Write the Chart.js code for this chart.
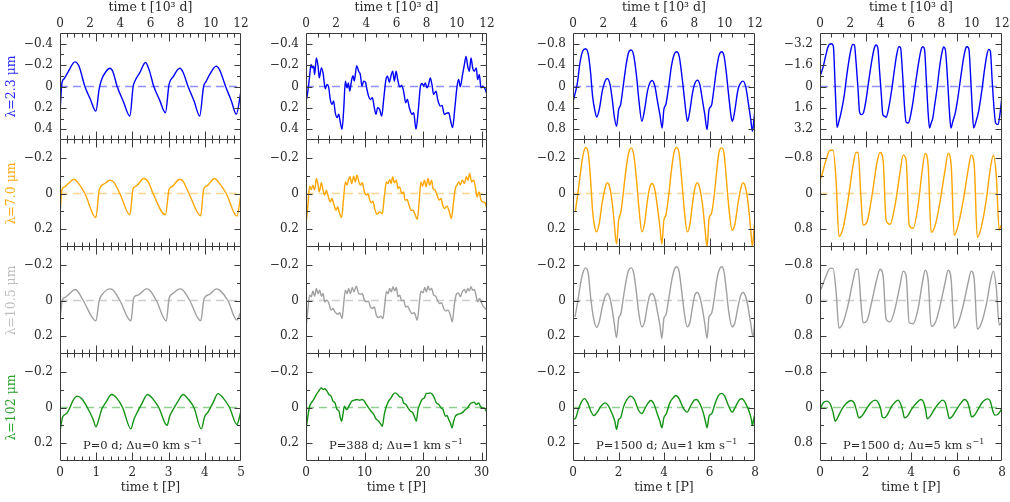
<!DOCTYPE html>
<html><head><meta charset="utf-8">
<script src="https://cdn.jsdelivr.net/npm/chart.js@4"></script>
<style>
html,body{margin:0;padding:0;background:#fff;overflow:hidden;width:1010px;height:502px;position:relative}
.p{position:absolute}
</style></head><body>
<script>
// ---------- DATA (time in 10^3 d) ----------
const topTicks = [0,2,4,6,8,10,12];
const bottomTicks = [[0,1,2,3,4,5],[0,10,20,30],[0,2,4,6,8],[0,2,4,6,8]];
const periodsKd = [2.4, 0.388, 1.5, 1.5];
const lambdaLabels = ['λ=2.3 μm','λ=7.0 μm','λ=10.5 μm','λ=102 μm'];
const notes = ['P=0 d; Δu=0 km s','P=388 d; Δu=1 km s','P=1500 d; Δu=1 km s','P=1500 d; Δu=5 km s'];
const yTicksTop = [[-0.4,-0.2,0,0.2,0.4],[-0.4,-0.2,0,0.2,0.4],[-0.8,-0.4,0,0.4,0.8],[-3.2,-1.6,0,1.6,3.2]];
const yTicksLow = [[-0.2,0,0.2],[-0.2,0,0.2],[-0.2,0,0.2],[-0.8,0,0.8]];

// Column 1: P=0 d
const tP0_23 = [0,0.13,0.26,0.55,0.99,1.26,1.65,2.0,2.38,2.6,2.76,3.05,3.31,3.5,3.79,4.2,4.63,4.85,4.96,5.29,5.67,5.9,6.22,6.6,6.99,7.23,7.5,7.94,8.15,8.49,8.9,9.26,9.52,9.7,9.92,10.36,10.6,10.98,11.35,11.69,12];
const vP0_23 = [0.245,-0.034,-0.07,-0.14,-0.23,-0.19,0,0.115,0.23,0.02,-0.065,-0.14,-0.17,-0.14,0,0.14,0.276,0,-0.05,-0.13,-0.225,-0.16,0,0.125,0.245,-0.02,-0.09,-0.17,-0.135,0,0.14,0.276,0,-0.05,-0.11,-0.19,-0.15,0,0.13,0.26,0.04];
const tP0_70 = [0,0.13,0.29,0.55,0.93,1.15,1.65,2.38,2.6,2.98,3.31,3.55,3.97,4.63,4.85,5.07,5.56,5.85,6.17,6.99,7.23,7.45,7.94,8.16,8.55,9.33,9.52,9.75,10.25,10.47,11.02,11.73,12];
const vP0_70 = [0.12,-0.022,-0.037,-0.056,-0.08,-0.065,0,0.135,-0.019,-0.056,-0.075,-0.065,0,0.12,-0.028,-0.043,-0.084,-0.065,0,0.12,-0.022,-0.04,-0.08,-0.068,0,0.125,-0.022,-0.043,-0.084,-0.068,0,0.127,0];
const tP0_105 = [0,0.15,0.33,0.66,0.99,1.15,1.54,2.38,2.6,2.86,3.31,3.53,3.97,4.7,4.9,5.18,5.73,5.95,6.39,7.05,7.23,7.5,7.94,8.16,8.6,9.33,9.55,9.92,10.36,10.58,11.13,11.73,12];
const vP0_105 = [0.11,0,-0.017,-0.04,-0.062,-0.055,0,0.114,0,-0.04,-0.065,-0.058,0,0.114,-0.017,-0.03,-0.065,-0.058,0,0.114,-0.01,-0.04,-0.065,-0.058,0,0.114,-0.01,-0.035,-0.065,-0.058,0,0.11,0.06];
const tP0_102 = [0,0.18,0.44,0.66,0.84,1.15,1.43,1.81,2.2,2.38,2.6,2.76,3.05,3.42,3.75,4.15,4.7,4.9,5.13,5.4,5.8,6.17,6.55,7.1,7.27,7.5,7.83,8.16,8.49,8.88,9.37,9.59,9.81,10.14,10.48,10.81,11.24,11.73,12];
const vP0_102 = [0.133,0.052,0.034,0,-0.036,-0.064,-0.05,0,0.067,0.108,0.058,0.011,-0.03,-0.073,-0.054,0,0.12,0.067,0.026,-0.017,-0.073,-0.047,0,0.1,0.049,0.011,-0.036,-0.073,-0.048,0,0.12,0.052,0.026,-0.026,-0.078,-0.054,0,0.095,0.02];

// Column 2: P=388 d
const tP388_23 = [0,0.11,0.24,0.33,0.42,0.51,0.57,0.69,0.8,0.88,1.02,1.13,1.28,1.39,1.5,1.61,1.72,1.83,1.94,2.06,2.17,2.28,2.39,2.5,2.61,2.72,2.81,2.9,3.03,3.12,3.2,3.36,3.49,3.6,3.71,3.82,3.96,4.04,4.15,4.27,4.4,4.53,4.64,4.75,4.88,5.02,5.15,5.3,5.41,5.52,5.64,5.75,5.86,5.97,6.08,6.21,6.34,6.47,6.61,6.72,6.85,7.03,7.14,7.29,7.45,7.58,7.69,7.8,7.91,8.02,8.13,8.24,8.35,8.46,8.62,8.73,8.91,9.02,9.17,9.3,9.46,9.57,9.72,9.86,10.01,10.12,10.23,10.36,10.5,10.61,10.72,10.83,10.94,11.05,11.16,11.29,11.38,11.49,11.6,11.73,11.87,12];
const vP388_23 = [0.136,0.059,-0.096,-0.205,-0.174,-0.189,-0.112,-0.267,-0.189,-0.081,-0.174,-0.127,0.022,-0.019,0.003,0.121,0.167,0.136,0.245,0.291,0.26,0.338,0.4,0.214,-0.05,0.012,-0.034,0.043,-0.065,-0.102,-0.05,-0.195,-0.143,-0.112,-0.003,-0.05,-0.034,0.028,0.09,0.121,0.105,0.198,0.26,0.198,0.214,0.276,0.121,-0.065,-0.096,-0.04,-0.102,-0.143,-0.05,-0.143,-0.065,0.003,-0.009,0.043,0.152,0.121,0.198,0.26,0.245,0.4,0.214,0.003,-0.028,-0.003,-0.034,0.012,-0.019,-0.081,-0.019,0.074,0.043,0.121,0.183,0.177,0.26,0.251,0.245,0.307,0.384,0.214,0.003,-0.065,0.003,-0.096,-0.205,-0.282,-0.189,-0.143,-0.267,-0.174,-0.143,-0.174,-0.065,-0.112,0.012,-0.003,0.022,0.074];
const tP388_70 = [0,0.11,0.24,0.35,0.46,0.57,0.69,0.8,0.88,1.02,1.13,1.24,1.35,1.48,1.61,1.72,1.86,1.99,2.1,2.23,2.36,2.5,2.61,2.72,2.81,2.92,3.03,3.16,3.27,3.38,3.51,3.6,3.73,3.87,4.0,4.11,4.22,4.35,4.44,4.55,4.71,4.86,5.06,5.19,5.33,5.44,5.55,5.64,5.75,5.86,5.99,6.1,6.21,6.34,6.47,6.56,6.7,6.83,6.96,7.09,7.25,7.38,7.51,7.62,7.73,7.85,7.96,8.09,8.2,8.33,8.42,8.55,8.69,8.82,8.95,9.06,9.19,9.35,9.5,9.64,9.77,9.9,10.01,10.14,10.23,10.36,10.5,10.63,10.74,10.85,10.98,11.12,11.23,11.34,11.47,11.6,11.73,11.87,12];
const vP388_70 = [0.168,0.084,-0.041,-0.022,-0.047,-0.019,-0.084,-0.047,-0.009,-0.06,-0.019,0.009,-0.019,0.019,0.047,0.028,0.065,0.094,0.075,0.112,0.135,0.019,-0.065,-0.047,-0.075,-0.094,-0.056,-0.097,-0.065,-0.103,-0.065,-0.047,-0.06,-0.009,0.009,0,0.037,0.052,0.043,0.084,0.116,0.103,0.112,0.019,-0.065,-0.056,-0.079,-0.056,-0.094,-0.06,-0.075,-0.028,-0.037,0,-0.009,0.037,0.034,0.065,0.094,0.094,0.122,0.146,0.037,-0.065,-0.041,-0.075,-0.037,-0.084,-0.047,-0.075,-0.028,-0.019,0.009,0.037,0.028,0.065,0.084,0.071,0.103,0.14,0.056,-0.028,-0.047,-0.065,-0.047,-0.075,-0.056,-0.094,-0.075,-0.112,-0.065,-0.075,-0.037,0.019,-0.009,0.037,0.047,0.052,0.084];
const tP388_105 = [0,0.11,0.24,0.35,0.46,0.57,0.69,0.8,0.91,1.02,1.13,1.24,1.39,1.52,1.66,1.79,1.92,2.1,2.23,2.39,2.5,2.61,2.72,2.83,2.94,3.07,3.18,3.34,3.49,3.6,3.73,3.87,4.0,4.13,4.27,4.4,4.53,4.66,4.82,4.97,5.1,5.22,5.33,5.44,5.55,5.66,5.77,5.88,5.99,6.1,6.21,6.34,6.47,6.61,6.74,6.87,7.03,7.18,7.38,7.51,7.62,7.76,7.87,7.98,8.09,8.2,8.33,8.46,8.6,8.73,8.86,8.99,9.13,9.26,9.42,9.57,9.7,9.83,9.97,10.1,10.23,10.36,10.5,10.61,10.72,10.83,10.94,11.05,11.16,11.29,11.38,11.51,11.65,11.78,11.89,12];
const vP388_105 = [0.148,0.064,-0.03,-0.021,-0.054,-0.024,-0.067,-0.039,-0.058,-0.024,-0.039,0.007,-0.002,0.017,0.054,0.045,0.064,0.077,0.069,0.101,0.017,-0.058,-0.039,-0.067,-0.039,-0.073,-0.049,-0.08,-0.039,-0.036,-0.039,-0.002,0.007,0.002,0.036,0.045,0.036,0.082,0.095,0.088,0.101,0.026,-0.049,-0.039,-0.067,-0.049,-0.077,-0.054,-0.073,-0.021,-0.03,0.002,-0.002,0.036,0.032,0.054,0.073,0.069,0.11,0.017,-0.052,-0.043,-0.073,-0.049,-0.08,-0.058,-0.067,-0.03,-0.024,0.002,0.017,0.013,0.045,0.058,0.054,0.082,0.12,0.026,-0.036,-0.043,-0.021,-0.049,-0.062,-0.043,-0.067,-0.054,-0.077,-0.058,-0.062,-0.021,0.007,-0.011,0.017,0.036,0.045,0.054];
const tP388_102 = [0,0.11,0.24,0.35,0.51,0.69,0.84,1.02,1.13,1.24,1.39,1.52,1.66,1.79,1.92,2.06,2.19,2.28,2.36,2.45,2.54,2.67,2.76,2.9,3.05,3.2,3.38,3.56,3.71,3.87,4.0,4.15,4.31,4.49,4.64,4.82,4.97,5.06,5.19,5.33,5.48,5.64,5.77,5.92,6.08,6.21,6.36,6.47,6.63,6.76,6.92,7.05,7.18,7.31,7.43,7.54,7.69,7.85,7.98,8.13,8.24,8.38,8.51,8.64,8.8,8.95,9.08,9.24,9.35,9.46,9.57,9.68,9.79,9.9,10.06,10.23,10.41,10.56,10.72,10.85,11.0,11.16,11.29,11.45,11.56,11.69,11.82,12];
const vP388_102 = [0.127,0.058,-0.007,-0.026,-0.045,-0.073,-0.092,-0.11,-0.101,-0.105,-0.092,-0.073,-0.064,-0.036,-0.026,0.011,0.021,0.058,0.077,0.039,-0.007,0.011,0.007,-0.017,-0.036,-0.041,-0.045,-0.041,-0.045,-0.036,-0.017,0.002,0.021,0.039,0.064,0.077,0.095,0.105,0.039,-0.007,-0.036,-0.054,-0.073,-0.082,-0.073,-0.06,-0.054,-0.026,-0.017,0.002,0.021,0.026,0.049,0.077,0.011,-0.017,-0.045,-0.054,-0.079,-0.079,-0.082,-0.073,-0.054,-0.026,-0.017,0.002,0.011,0.049,0.045,0.067,0.086,0.114,0.077,0.049,0.039,0.034,0.026,0.011,0.002,-0.017,-0.026,-0.03,-0.017,-0.026,-0.007,0.002,0.002,0.03];

// Column 3: P=1500 d, du=1
const tP1500a_23 = [0.04,0.29,0.46,0.64,0.83,1.01,1.16,1.29,1.43,1.56,1.73,1.93,2.11,2.26,2.44,2.59,2.72,2.87,3.01,3.14,3.31,3.49,3.66,3.84,4.01,4.19,4.34,4.54,4.72,4.91,5.07,5.22,5.4,5.55,5.73,5.88,5.99,6.12,6.3,6.49,6.67,6.82,7.0,7.17,7.33,7.48,7.55,7.7,7.88,8.03,8.21,8.36,8.53,8.69,8.84,8.97,9.13,9.3,9.46,9.63,9.81,9.96,10.11,10.27,10.44,10.51,10.66,10.88,11.06,11.21,11.39,11.56,11.72,11.83,11.93,12.0];
const vP1500a_23 = [0.244,-0.069,-0.444,-0.663,-0.706,-0.6,-0.256,0.181,0.431,0.569,0.431,0.088,-0.1,-0.15,-0.038,0.244,0.556,0.744,0.431,0.338,-0.006,-0.381,-0.631,-0.681,-0.569,-0.194,0.244,0.65,0.431,0.088,-0.069,-0.113,-0.006,0.244,0.525,0.775,0.431,0.338,0.025,-0.381,-0.6,-0.65,-0.569,-0.225,0.181,0.556,0.65,0.463,0.119,-0.056,-0.119,-0.038,0.244,0.525,0.806,0.431,0.356,0.025,-0.319,-0.581,-0.65,-0.569,-0.256,0.181,0.588,0.65,0.463,0.056,-0.069,-0.1,0.006,0.306,0.619,0.838,0.619,0.431];
const tP1500a_70 = [0.15,0.29,0.46,0.64,0.83,1.01,1.16,1.29,1.43,1.56,1.73,1.93,2.11,2.26,2.44,2.59,2.7,2.87,3.01,3.16,3.31,3.49,3.66,3.84,4.01,4.19,4.34,4.54,4.72,4.91,5.07,5.22,5.4,5.55,5.73,5.86,5.99,6.12,6.3,6.49,6.67,6.82,7.0,7.17,7.33,7.53,7.7,7.88,8.03,8.21,8.36,8.53,8.69,8.84,8.97,9.13,9.3,9.46,9.63,9.81,9.96,10.11,10.27,10.49,10.66,10.88,11.06,11.21,11.39,11.56,11.72,11.83,11.93,12.0];
const vP1500a_70 = [0.103,0.019,-0.094,-0.206,-0.258,-0.224,-0.075,0.094,0.187,0.215,0.168,0.047,-0.028,-0.06,-0.028,0.056,0.146,0.284,0.15,0.103,0,-0.131,-0.224,-0.256,-0.215,-0.075,0.075,0.215,0.168,0.037,-0.037,-0.056,-0.019,0.065,0.187,0.284,0.15,0.122,0.019,-0.131,-0.234,-0.258,-0.224,-0.075,0.084,0.215,0.178,0.056,-0.028,-0.06,-0.028,0.056,0.187,0.299,0.14,0.112,0.019,-0.112,-0.234,-0.256,-0.224,-0.084,0.075,0.206,0.178,0.056,-0.028,-0.06,-0.028,0.065,0.206,0.299,0.206,0.14];
const tP1500a_105 = [0.13,0.29,0.46,0.64,0.83,1.01,1.16,1.34,1.56,1.73,1.93,2.11,2.26,2.44,2.59,2.72,2.87,3.01,3.16,3.31,3.49,3.66,3.84,4.01,4.19,4.34,4.54,4.72,4.91,5.07,5.22,5.4,5.55,5.73,5.86,5.99,6.12,6.3,6.49,6.67,6.82,7.0,7.17,7.33,7.53,7.7,7.88,8.03,8.21,8.36,8.53,8.69,8.84,8.97,9.13,9.3,9.46,9.63,9.81,9.96,10.11,10.27,10.49,10.66,10.88,11.06,11.21,11.39,11.56,11.72,11.87,12.0];
const vP1500a_105 = [0.092,0.017,-0.077,-0.151,-0.183,-0.151,-0.021,0.092,0.151,0.12,0.036,-0.021,-0.039,-0.011,0.054,0.129,0.208,0.101,0.073,-0.011,-0.105,-0.17,-0.183,-0.151,-0.039,0.073,0.148,0.12,0.026,-0.03,-0.039,-0.011,0.054,0.138,0.213,0.101,0.082,-0.002,-0.105,-0.17,-0.189,-0.161,-0.049,0.064,0.148,0.125,0.036,-0.03,-0.045,-0.021,0.045,0.129,0.213,0.092,0.073,-0.002,-0.105,-0.17,-0.189,-0.161,-0.058,0.064,0.148,0.129,0.036,-0.03,-0.045,-0.021,0.045,0.129,0.204,0.101];
const tP1500a_102 = [0.04,0.18,0.35,0.53,0.75,0.97,1.18,1.38,1.6,1.84,2.11,2.33,2.55,2.76,2.87,3.01,3.14,3.31,3.53,3.8,4.04,4.3,4.54,4.76,4.96,5.13,5.35,5.57,5.73,5.86,5.99,6.16,6.38,6.6,6.78,7.0,7.26,7.53,7.74,7.99,8.14,8.36,8.58,8.73,8.84,8.97,9.15,9.35,9.57,9.79,10.0,10.22,10.49,10.73,10.99,11.15,11.36,11.61,11.76,11.83,11.93,12.0];
const vP1500a_102 = [0.065,0.058,0.011,-0.026,-0.05,-0.026,0.021,0.045,0.026,-0.007,-0.026,-0.011,0.03,0.077,0.123,0.067,0.058,0.002,-0.041,-0.064,-0.045,0.011,0.034,0.002,-0.026,-0.039,-0.017,0.039,0.077,0.114,0.058,0.034,-0.026,-0.054,-0.067,-0.049,0.002,0.026,-0.007,-0.041,-0.045,-0.022,0.026,0.077,0.114,0.049,0.034,-0.017,-0.064,-0.079,-0.064,-0.017,0.026,-0.007,-0.045,-0.049,-0.026,0.021,0.067,0.101,0.058,0.034];

// Column 4: P=1500 d, du=5
const tP1500b_23 = [0.05,0.22,0.37,0.51,0.62,0.77,0.88,0.99,1.06,1.12,1.25,1.43,1.59,1.76,1.92,2.05,2.16,2.27,2.38,2.51,2.6,2.71,2.86,3.04,3.21,3.41,3.57,3.7,3.81,3.92,4.05,4.14,4.27,4.36,4.51,4.73,4.91,5.06,5.2,5.31,5.44,5.57,5.68,5.83,5.94,6.12,6.32,6.52,6.67,6.78,6.89,7.02,7.13,7.22,7.33,7.44,7.55,7.71,7.88,8.04,8.15,8.26,8.41,8.54,8.63,8.76,8.92,9.09,9.29,9.47,9.62,9.69,9.82,9.93,10.04,10.13,10.26,10.46,10.68,10.85,11.01,11.12,11.23,11.36,11.49,11.58,11.74,11.89,12.0];
const vP1500b_23 = [-0.9,-1.525,-2.275,-2.9,-3.15,-3.2,-3.025,-0.275,1.725,3.05,2.6,1.725,0.725,-0.775,-2.025,-2.825,-3.15,-3.1,-1.775,0.225,1.85,2.1,1.975,0.975,-0.4,-1.9,-2.825,-3.1,-2.9,-1.275,0.725,2.1,2.225,2.3,1.725,0.225,-1.275,-2.4,-2.975,-2.9,-1.025,1.475,2.675,2.725,2.35,1.225,-0.4,-1.9,-2.775,-2.975,-2.775,-0.275,1.975,3.1,2.725,2.35,1.475,0.225,-1.4,-2.525,-2.95,-2.775,-0.525,1.975,3.1,2.6,1.975,0.85,-0.775,-2.15,-2.9,-2.975,-2.775,-0.775,1.725,3.1,2.725,1.85,0.225,-1.275,-2.4,-2.775,-2.65,-0.275,1.85,2.725,2.85,1.85,0.725];
const tP1500b_70 = [0.07,0.4,0.66,0.86,1.06,1.25,1.52,1.85,2.18,2.38,2.51,2.71,2.84,3.1,3.43,3.76,3.96,4.16,4.36,4.62,4.95,5.28,5.48,5.68,5.88,6.14,6.47,6.74,6.94,7.13,7.33,7.6,7.93,8.26,8.45,8.65,8.85,9.11,9.45,9.78,9.97,10.17,10.37,10.63,10.96,11.23,11.43,11.62,11.82,11.95];
const vP1500b_70 = [-0.34,-0.75,-0.97,-0.97,-0.3,0.96,0.78,0.15,-0.63,-0.92,-0.92,0.15,0.71,0.64,0.04,-0.7,-0.92,-0.75,0.6,0.69,0.26,-0.48,-0.86,-0.75,0.71,0.78,0.26,-0.52,-0.9,-0.63,0.87,0.71,0.15,-0.56,-0.9,-0.63,0.94,0.71,0.15,-0.56,-0.86,-0.63,0.98,0.76,0.15,-0.56,-0.86,-0.41,0.82,0.71];
const tP1500b_105 = [0.07,0.4,0.66,0.86,1.06,1.25,1.52,1.85,2.18,2.38,2.51,2.71,2.84,3.1,3.43,3.76,3.96,4.16,4.36,4.62,4.95,5.28,5.48,5.68,5.88,6.14,6.47,6.74,6.94,7.13,7.33,7.6,7.93,8.26,8.45,8.65,8.85,9.11,9.45,9.78,9.97,10.17,10.37,10.63,10.96,11.23,11.43,11.62,11.82,11.95];
const vP1500b_105 = [-0.25,-0.55,-0.72,-0.72,-0.2,0.62,0.5,0.1,-0.45,-0.7,-0.7,0.1,0.5,0.45,0,-0.5,-0.7,-0.55,0.42,0.48,0.18,-0.35,-0.66,-0.55,0.5,0.52,0.18,-0.38,-0.68,-0.46,0.58,0.5,0.1,-0.42,-0.68,-0.46,0.62,0.5,0.1,-0.42,-0.66,-0.46,0.64,0.52,0.1,-0.42,-0.66,-0.3,0.55,0.5];
const tP1500b_102 = [0.04,0.22,0.44,0.66,0.84,1.01,1.21,1.43,1.72,2.05,2.25,2.42,2.55,2.75,3.04,3.35,3.65,3.85,4.01,4.1,4.25,4.45,4.73,4.95,5.15,5.33,5.46,5.57,5.77,6.05,6.38,6.65,6.83,6.96,7.07,7.27,7.53,7.82,8.08,8.26,8.39,8.52,8.7,8.94,9.25,9.53,9.73,9.86,9.99,10.17,10.39,10.68,11.05,11.23,11.4,11.54,11.71,11.89,12.0];
const vP1500b_102 = [0.007,-0.105,-0.142,-0.09,0.082,0.307,0.194,0.045,-0.09,-0.157,-0.105,0.082,0.232,0.194,0.045,-0.105,-0.165,-0.105,0.045,0.209,0.232,0.157,-0.03,-0.12,-0.165,-0.067,0.082,0.232,0.194,0.03,-0.105,-0.18,-0.12,0.045,0.254,0.194,0.045,-0.09,-0.165,-0.105,0.06,0.247,0.209,0.082,-0.082,-0.18,-0.12,0.03,0.209,0.18,0.06,-0.105,-0.194,-0.142,0.082,0.172,0.157,0.082,0.007];

const seriesTimes = [
  [tP0_23, tP0_70, tP0_105, tP0_102],
  [tP388_23, tP388_70, tP388_105, tP388_102],
  [tP1500a_23, tP1500a_70, tP1500a_105, tP1500a_102],
  [tP1500b_23, tP1500b_70, tP1500b_105, tP1500b_102]
];
const seriesValues = [
  [vP0_23, vP0_70, vP0_105, vP0_102],
  [vP388_23, vP388_70, vP388_105, vP388_102],
  [vP1500a_23, vP1500a_70, vP1500a_105, vP1500a_102],
  [vP1500b_23, vP1500b_70, vP1500b_105, vP1500b_102]
];

// ---------- STYLE / LAYOUT ----------
const FONT = 'DejaVu Serif';
const TXT = '#2a2a2a';
const lineColors = ['#0000ff','#ffa500','#a0a0a0','#139313'];
const zeroColors = ['#8f8fff','#ffd690','#cdcdcd','#8fd08f'];
const titleColors = ['#2828ff','#ffaa10','#bdbdbd','#2aa02a'];
const yRange = [[0.5,0.3,0.3,0.3],[0.5,0.3,0.3,0.3],[1,0.3,0.3,0.3],[4,1.2,1.2,1.2]];
const yMinorTop = [0.1,0.1,0.2,0.8];
const yMinorLow = [0.1,0.1,0.1,0.4];
const xMinorP = [0.2,2,0.5,0.5];
const xMajorP = [1,10,2,2];
const plotL = [60,306,573,820], plotW = [181,181,182,182];
const plotT = [33,140,247,354], plotH = 107;

Chart.defaults.font.family = FONT;
Chart.defaults.font.size = 12;
Chart.defaults.color = TXT;

function fmt(v){ return v < 0 ? '\u2212' + String(Math.abs(v)) : String(v); }

function framePlugin(c, r, yMinor, yMajor, R){
  return {
    id: 'frame',
    afterDatasetsDraw(chart){
      const {ctx, chartArea:a, scales} = chart;
      const xs = scales.x, ys = scales.y;
      const L = Math.round(a.left), Rt = Math.round(a.right), T = Math.round(a.top), B = Math.round(a.bottom);
      const top = r === 0 ? T + 0.5 : T - 0.5;
      const bot = B - 0.5;
      ctx.save();
      ctx.strokeStyle = '#3a3a3a';
      ctx.lineWidth = 1;
      ctx.beginPath();
      ctx.rect(L + 0.5, top, Rt - L - 1, bot - top);
      const pk = periodsKd[c], maxP = 12 / pk, st = xMinorP[c], mj = xMajorP[c];
      for (let k = 1; k * st < maxP - 1e-6; k++){
        const p = k * st;
        const px = Math.round(xs.getPixelForValue(p * pk)) + 0.5;
        const major = Math.abs(p / mj - Math.round(p / mj)) < 1e-6;
        const len = major ? 8 : 4;
        ctx.moveTo(px, top); ctx.lineTo(px, top + len);
        ctx.moveTo(px, bot); ctx.lineTo(px, bot - len);
      }
      const n = Math.round(R / yMinor);
      for (let k = -n + 1; k < n; k++){
        const v = k * yMinor;
        const py = Math.round(ys.getPixelForValue(v)) + 0.5;
        const major = yMajor.some(m => Math.abs(m - v) < 1e-6);
        const len = major ? 6 : 3.5;
        ctx.moveTo(L + 0.5, py); ctx.lineTo(L + 0.5 + len, py);
        ctx.moveTo(Rt - 0.5, py); ctx.lineTo(Rt - 0.5 - len, py);
      }
      ctx.stroke();
      if (r === 3){
        ctx.fillStyle = TXT;
        ctx.font = '11.5px "' + FONT + '"';
        ctx.textBaseline = 'middle';
        ctx.textAlign = 'left';
        const x0 = a.left + 23, y0 = a.top + 92;
        ctx.fillText(notes[c], x0, y0);
        const w = ctx.measureText(notes[c]).width;
        ctx.font = '8px "' + FONT + '"';
        ctx.fillText('\u22121', x0 + w + 0.5, y0 - 4);
      }
      ctx.restore();
    }
  };
}

for (let c = 0; c < 4; c++){
  for (let r = 0; r < 4; r++){
    const padL = c === 0 ? 0 : 10;
    const Wl = c === 0 ? 60 : 44;
    const padR = 10;
    const padT = r === 0 ? 0 : 18;
    const Ht = r === 0 ? 33 : 0;
    const Hb = r === 3 ? 41 : 0;
    const padB = r === 3 ? 0 : 18;
    const W = padL + Wl + plotW[c] + padR;
    const H = padT + Ht + plotH + Hb + padB;
    const left = plotL[c] - Wl - padL;
    const topPx = plotT[r] - Ht - padT;
    const div = document.createElement('div');
    div.className = 'p';
    div.style.left = left + 'px';
    div.style.top = topPx + 'px';
    div.style.width = W + 'px';
    div.style.height = H + 'px';
    const cv = document.createElement('canvas');
    cv.width = W; cv.height = H;
    cv.style.width = W + 'px'; cv.style.height = H + 'px';
    div.appendChild(cv);
    document.body.appendChild(div);

    const R = yRange[c][r];
    const yMajor = r === 0 ? yTicksTop[c] : yTicksLow[c];
    const yMinor = r === 0 ? yMinorTop[c] : yMinorLow[c];
    const ts = seriesTimes[c][r], vs = seriesValues[c][r];
    const pts = ts.map((t, i) => ({x: t, y: vs[i]}));

    new Chart(cv, {
      type: 'line',
      data: {
        datasets: [
          { data: pts, borderColor: lineColors[r], borderWidth: 1.4, pointRadius: 0,
            cubicInterpolationMode: 'monotone', fill: false, xAxisID: 'x', yAxisID: 'y' },
          { data: [{x:0,y:0},{x:12,y:0}], borderColor: zeroColors[r], borderWidth: 1.3,
            borderDash: [8,5], pointRadius: 0, fill: false, xAxisID: 'x', yAxisID: 'y' }
        ]
      },
      options: {
        responsive: false,
        animation: false,
        devicePixelRatio: 1,
        events: [],
        layout: { padding: { left: padL, right: padR, top: padT, bottom: padB } },
        plugins: { legend: { display: false }, tooltip: { enabled: false } },
        scales: {
          x: {
            type: 'linear', position: 'top', min: 0, max: 12, display: r === 0,
            afterBuildTicks: s => { s.ticks = topTicks.map(v => ({value: v})); },
            afterFit: s => { if (r === 0) s.height = Ht; },
            grid: { display: false, drawTicks: false }, border: { display: false },
            ticks: { padding: 2, maxRotation: 0, autoSkip: false, color: TXT, font: {size: 12} },
            title: { display: true, text: 'time t [10\u00B3 d]', color: TXT, font: {size: 12.5}, padding: {top: 0, bottom: 0} }
          },
          xb: {
            type: 'linear', position: 'bottom', min: 0, max: 12 / periodsKd[c], display: r === 3,
            afterBuildTicks: s => { s.ticks = bottomTicks[c].map(v => ({value: v})); },
            afterFit: s => { if (r === 3) s.height = Hb; },
            grid: { display: false, drawTicks: false }, border: { display: false },
            ticks: { padding: 5, maxRotation: 0, autoSkip: false, color: TXT, font: {size: 12} },
            title: { display: true, text: 'time t [P]', color: TXT, font: {size: 12.5}, padding: {top: 0, bottom: 7} }
          },
          y: {
            type: 'linear', position: 'left', reverse: true, min: -R, max: R,
            afterBuildTicks: s => { s.ticks = yMajor.map(v => ({value: v})); },
            afterFit: s => { s.width = Wl; },
            grid: { display: false, drawTicks: false }, border: { display: false },
            ticks: { padding: 7, color: TXT, font: {size: 12}, callback: v => fmt(v) },
            title: { display: c === 0, text: lambdaLabels[r], color: titleColors[r], font: {size: 12.5}, padding: {top: 4, bottom: 0} }
          }
        }
      },
      plugins: [framePlugin(c, r, yMinor, yMajor, R)]
    });
  }
}
</script>
</body></html>
